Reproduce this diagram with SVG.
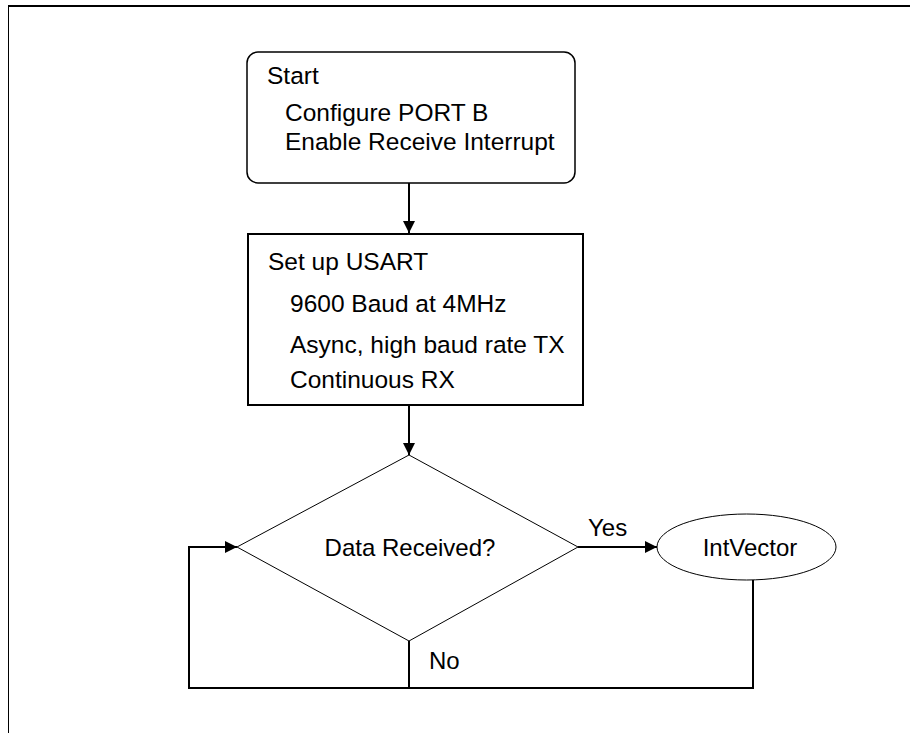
<svg xmlns="http://www.w3.org/2000/svg" width="910" height="733" viewBox="0 0 910 733">
<style>
text{font-family:"Liberation Sans",Arial,sans-serif;font-size:24px;fill:#000}
.b{font-size:24.5px}
.c{fill:none;stroke:#000;stroke-width:2}
.n{fill:#fff;stroke:#000}
</style>
<defs>
<marker id="a" viewBox="0 0 12 12" refX="12" refY="6" markerWidth="12" markerHeight="12" markerUnits="userSpaceOnUse" orient="auto">
<path d="M0,0 L12,6 L0,12 Z" fill="#000"/>
</marker>
</defs>
<rect width="910" height="733" fill="#fff"/>
<g id="frame">
<line x1="8" y1="6" x2="910" y2="6" stroke="#000" stroke-width="2"/>
<line x1="8.5" y1="6" x2="8.5" y2="733" stroke="#000" stroke-width="1"/>
</g>
<g id="connectors">
<line class="c" x1="409" y1="183" x2="409" y2="233" marker-end="url(#a)"/>
<line class="c" x1="409" y1="405" x2="409" y2="455" marker-end="url(#a)"/>
<line class="c" x1="578" y1="547" x2="657" y2="547" marker-end="url(#a)"/>
<polyline class="c" points="409,641 409,688 189,688 189,547 237,547" marker-end="url(#a)"/>
<polyline class="c" points="753,580 753,688 409,688"/>
<text x="588" y="536">Yes</text>
<text x="429" y="669">No</text>
</g>
<g id="start">
<rect class="n" x="247" y="52" width="328" height="131" rx="11" stroke-width="1.5"/>
<text class="b" x="267" y="84">Start</text>
<text class="b" x="285" y="121">Configure PORT B</text>
<text class="b" x="285" y="150">Enable Receive Interrupt</text>
</g>
<g id="usart">
<rect class="n" x="248" y="234" width="335" height="171" stroke-width="2"/>
<text class="b" x="268" y="270">Set up USART</text>
<text class="b" x="290" y="312">9600 Baud at 4MHz</text>
<text class="b" x="290" y="353">Async, high baud rate TX</text>
<text class="b" x="290" y="388">Continuous RX</text>
</g>
<g id="decision">
<polygon class="n" points="409,455 578,547 409,641 237,547" stroke-width="1"/>
<text x="410" y="556" text-anchor="middle">Data Received?</text>
</g>
<g id="intvector">
<ellipse class="n" cx="746.5" cy="547" rx="89.5" ry="33" stroke-width="1"/>
<text x="750" y="556" text-anchor="middle">IntVector</text>
</g>
</svg>
